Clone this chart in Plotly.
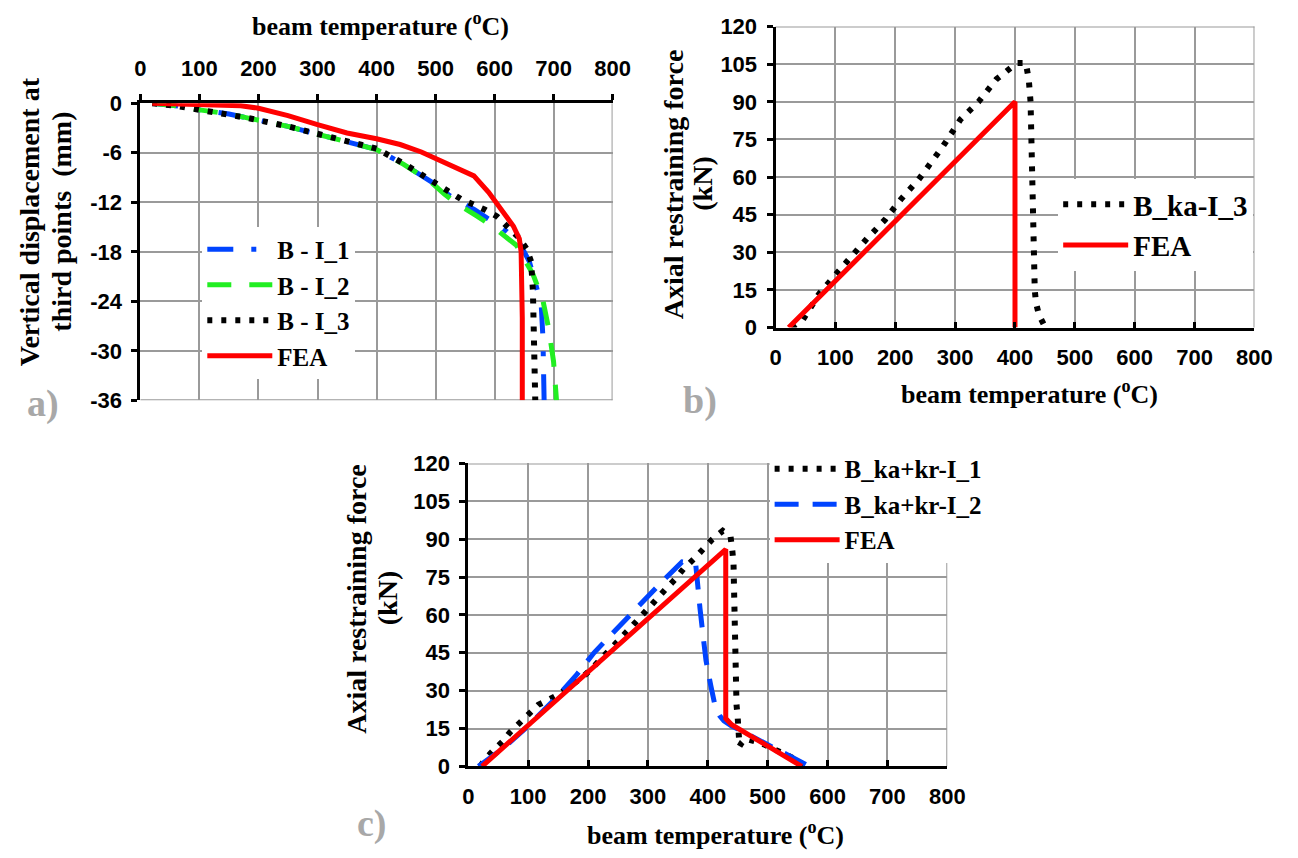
import plotly.graph_objects as go

W, H = 1298, 858

# ---------------- data ----------------
temp_ticks = [0, 100, 200, 300, 400, 500, 600, 700, 800]
temp_labels = ["0", "100", "200", "300", "400", "500", "600", "700", "800"]
disp_ticks = [0, -6, -12, -18, -24, -30, -36]
disp_labels = ["0", "-6", "-12", "-18", "-24", "-30", "-36"]
force_ticks = [0, 15, 30, 45, 60, 75, 90, 105, 120]
force_labels = ["0", "15", "30", "45", "60", "75", "90", "105", "120"]

# panel a) vertical displacement (mm) vs beam temperature
a_I1_T = [20, 60, 100, 150, 183, 250, 300, 350, 400, 446, 499, 524, 566, 615, 642, 659, 679, 682, 684]
a_I1_d = [0, -0.3, -0.8, -1.3, -1.8, -2.8, -3.75, -4.6, -5.6, -7.4, -9.8, -11.2, -12.9, -15.2, -16.9, -19.2, -24.3, -28.4, -36]
a_I2_T = [20, 60, 100, 150, 183, 250, 300, 350, 400, 446, 490, 515, 537, 571, 596, 637, 665, 682, 692, 700, 705]
a_I2_d = [0, -0.3, -0.8, -1.3, -1.8, -2.8, -3.75, -4.6, -5.6, -7.4, -9.4, -11.0, -12.2, -13.7, -14.9, -17.2, -20.7, -23.9, -27.4, -31.3, -36]
a_I3_T = [20, 60, 100, 150, 183, 250, 300, 350, 400, 446, 484, 543, 584, 604, 621, 640, 654, 662, 665, 667, 669]
a_I3_d = [0, -0.3, -0.8, -1.3, -1.8, -2.8, -3.75, -4.6, -5.5, -7.3, -9.0, -11.6, -12.9, -13.7, -14.9, -16.2, -17.6, -19.2, -22.7, -29.3, -36]
a_FEA_T = [20, 100, 170, 200, 250, 300, 350, 400, 440, 476, 520, 565, 590, 607, 632, 642, 645, 646, 647, 647]
a_FEA_d = [0, -0.1, -0.3, -0.6, -1.5, -2.6, -3.6, -4.3, -5.0, -5.9, -7.3, -8.8, -10.8, -12.5, -14.9, -16.4, -18, -22, -26, -36]

# panel b) axial restraining force (kN)
b_I3_T = [27, 46, 73, 93, 120, 153, 183, 209, 239, 279, 309, 339, 369, 385, 403, 418, 423, 426, 428, 430, 433, 435, 440, 448]
b_I3_F = [0, 3.2, 13.5, 18.7, 26.5, 35.5, 43, 51, 59, 72, 83, 90, 99, 102, 105.5, 105.5, 99, 90, 68, 35.5, 15, 10, 5, 1.3]
b_FEA_T = [22, 400, 400]
b_FEA_F = [0, 90, 0]

# panel c) axial restraining force (kN)
c_I1_T = [20, 30, 43, 57, 70, 85, 100, 117, 135, 153, 171, 188, 205, 221, 237, 251, 267, 283, 298, 313, 329,
          345, 360, 377, 391, 407, 425, 438, 441, 443, 444, 445, 447, 448, 450, 451, 453, 457, 463, 490, 507, 527, 547, 560]
c_I1_F = [0, 3.4, 6.6, 9.8, 13.6, 17, 20.6, 24.4, 26.5, 28.8, 32, 34.8, 38.4, 42.2, 46, 49.8, 53.9, 58, 62, 66.6, 70,
          74, 78.4, 82.2, 86, 89.8, 93.3, 91.1, 85.4, 80.3, 68.9, 52.4, 35.8, 24.4, 19.3, 13.6, 7.9, 9.5, 11, 9.1, 7.2, 5.3, 2.8, 0.3]
c_I2_T = [17, 60, 100, 150, 180, 210, 240, 280, 327, 357, 372, 380, 384, 387, 392, 397, 405, 413, 420, 427, 440, 480, 520, 570]
c_I2_F = [0, 7.5, 16, 28, 36, 45, 52.5, 62.5, 74, 81, 80.5, 79.7, 72, 62.5, 52, 42, 32, 23, 20, 18, 16, 11, 6, 0]
c_FEA_T = [23, 430, 430, 440, 557]
c_FEA_F = [0, 86, 19, 16.5, 0]

# ---------------- styling helpers ----------------
SERIF = "Liberation Serif"
SANS = "Liberation Sans"
GRID = "#9a9a9a"
RED = "#ff0000"
BLUE = "#0044ff"
GREEN = "#22ee22"
DOT = "5px,9px"

def px(x):
    return x / W

def py(y):
    return 1 - y / H

fig = go.Figure()

def line(x, y, name, color, width, dash, xa, ya, leg):
    fig.add_trace(go.Scatter(x=x, y=y, name=name, mode="lines",
                             line=dict(color=color, width=width, dash=dash),
                             xaxis=xa, yaxis=ya, legend=leg))

# panel a
line(a_I1_T, a_I1_d, "B - I_1", BLUE, 5, "26px,18px,5px,18px", "x", "y", "legend")
line(a_I2_T, a_I2_d, "B - I_2", GREEN, 5, "24px,18px", "x", "y", "legend")
line(a_I3_T, a_I3_d, "B - I_3", "black", 6, DOT, "x", "y", "legend")
line(a_FEA_T, a_FEA_d, "FEA", RED, 5, "solid", "x", "y", "legend")
# panel b
line(b_I3_T, b_I3_F, "B_ka-I_3", "black", 6, DOT, "x2", "y2", "legend2")
line(b_FEA_T, b_FEA_F, "FEA", RED, 5, "solid", "x2", "y2", "legend2")
# panel c
line(c_I1_T, c_I1_F, "B_ka+kr-I_1", "black", 6, DOT, "x3", "y3", "legend3")
line(c_I2_T, c_I2_F, "B_ka+kr-I_2", BLUE, 5, "24px,14px", "x3", "y3", "legend3")
line(c_FEA_T, c_FEA_F, "FEA", RED, 5, "solid", "x3", "y3", "legend3")

tickfont = dict(family=SANS, size=22, color="black", weight="bold")

def xaxis(dom, anchor, side, ticks, standoff):
    return dict(domain=[px(dom[0]), px(dom[1])], anchor=anchor, side=side,
                range=[temp_ticks[0], temp_ticks[-1]], tickvals=temp_ticks, ticktext=temp_labels,
                showline=True, linecolor="black", linewidth=3,
                ticks=ticks, ticklen=6, tickwidth=3, tickcolor="black",
                showgrid=True, gridcolor=GRID, gridwidth=2, zeroline=False,
                tickfont=tickfont, ticklabelstandoff=standoff, fixedrange=True)

def yaxis(dom, anchor, ticks, labels):
    return dict(domain=[py(dom[1]), py(dom[0])], anchor=anchor,
                range=[min(ticks), max(ticks)], tickvals=ticks, ticktext=labels,
                showline=True, linecolor="black", linewidth=3,
                ticks="outside", ticklen=6, tickwidth=3, tickcolor="black",
                showgrid=True, gridcolor=GRID, gridwidth=2, zeroline=False,
                tickfont=tickfont, ticklabelstandoff=5, fixedrange=True)

A_X, A_Y = (137, 618), (94, 400)
B_X, B_Y = (784, 1272), (15, 325)
C_X, C_Y = (471, 959), (465, 777)

legfont = dict(family=SERIF, size=25, color="black", weight="bold")

fig.update_layout(
    width=W, height=H, margin=dict(l=0, r=0, t=0, b=0),
    paper_bgcolor="white", plot_bgcolor="white",
    xaxis=xaxis(A_X, "y", "top", "outside", 9),
    yaxis=yaxis(A_Y, "x", disp_ticks, disp_labels),
    xaxis2=xaxis(B_X, "y2", "bottom", "inside", 8),
    yaxis2=yaxis(B_Y, "x2", force_ticks, force_labels),
    xaxis3=xaxis(C_X, "y3", "bottom", "inside", 8),
    yaxis3=yaxis(C_Y, "x3", force_ticks, force_labels),
    legend=dict(x=px(200), y=py(221), xanchor="left", yanchor="top", bgcolor="white",
                font=legfont, itemwidth=65, tracegroupgap=0, borderwidth=0),
    legend2=dict(x=px(1072), y=py(172), xanchor="left", yanchor="top", bgcolor="white",
                 font=dict(legfont, size=29), itemwidth=65, tracegroupgap=0, borderwidth=0),
    legend3=dict(x=px(778), y=py(447), xanchor="left", yanchor="top", bgcolor="white",
                 font=legfont, itemwidth=65, tracegroupgap=0, borderwidth=0),
    showlegend=True,
)

# far-edge grid lines (plotly clips grid lines at the range ends)
shapes = []
for xa, ya, xedge, yedge in [("x", "y", temp_ticks[-1], disp_ticks[-1]),
                             ("x2", "y2", temp_ticks[-1], force_ticks[-1]),
                             ("x3", "y3", temp_ticks[-1], force_ticks[-1])]:
    shapes.append(dict(type="line", xref=xa, yref=ya + " domain", x0=xedge, x1=xedge, y0=0, y1=1,
                       line=dict(color=GRID, width=2), layer="below"))
    shapes.append(dict(type="line", xref=xa + " domain", yref=ya, x0=0, x1=1, y0=yedge, y1=yedge,
                       line=dict(color=GRID, width=2), layer="below"))
fig.update_layout(shapes=shapes)

title_font = dict(family=SERIF, size=26, color="black", weight="bold")
ytitle_font = dict(family=SERIF, size=28, color="black", weight="bold")
tag_font = dict(family=SERIF, size=38, color="#a8a8a8", weight="bold")
xt = "beam temperature (<sup>o</sup>C)"

def ann(text, x, y, font, angle=0):
    fig.add_annotation(text=text, x=px(x), y=py(y), xref="paper", yref="paper",
                       showarrow=False, font=font, textangle=angle,
                       xanchor="center", yanchor="middle")

ann(xt, 382, 13, title_font)
ann(xt, 1043, 392, title_font)
ann(xt, 723, 846, title_font)
ann("Vertical displacement at", 24, 216, ytitle_font, -90)
ann("third points  (mm)", 57, 216, ytitle_font, -90)
ann("Axial restraining force", 680, 177, ytitle_font, -90)
ann("(kN)", 710, 177, ytitle_font, -90)
ann("Axial restraining force", 357, 604, ytitle_font, -90)
ann("(kN)", 389, 604, ytitle_font, -90)
ann("a)", 38, 403, tag_font)
ann("b)", 707, 400, tag_font)
ann("c)", 373, 836, tag_font)

fig.write_html("out.html")
